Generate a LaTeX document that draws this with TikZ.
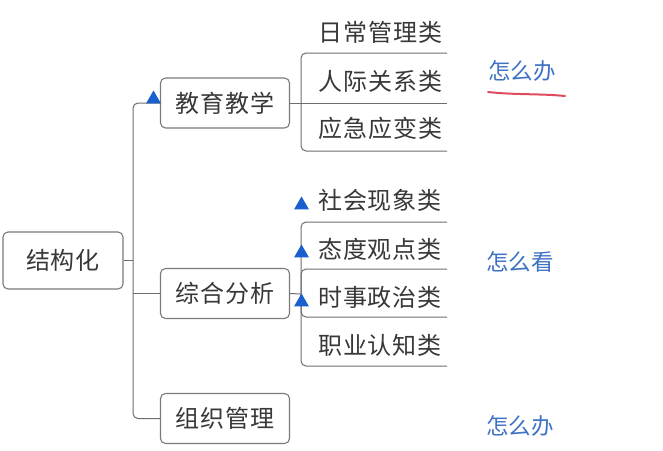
\documentclass[tikz,border=0pt]{standalone}
\usepackage{fontspec}
\newfontfamily\cjk[LetterSpace=4]{Noto Sans CJK SC}
\newfontfamily\cjknote{Noto Sans CJK SC}
\usetikzlibrary{shapes.geometric}
\definecolor{boxline}{HTML}{7A7A7A}
\definecolor{wire}{HTML}{6E6E6E}
\definecolor{ink}{HTML}{383838}
\definecolor{note}{HTML}{3D72C4}
\definecolor{mark}{HTML}{1A5FD0}
\definecolor{pen}{HTML}{E04A5F}
\tikzset{
  topic/.style={draw=boxline, line width=1.1pt, rounded corners=5pt, fill=white,
    minimum width=129pt, minimum height=50pt, inner sep=0pt,
    font=\cjk\fontsize{24}{24}\selectfont, text=ink},
  rootbox/.style={topic, minimum width=120pt, minimum height=57pt},
  leaf/.style={inner sep=0pt, font=\cjk\fontsize{24}{24}\selectfont, text=ink},
  wirestyle/.style={draw=wire, line width=1pt},
  bracket/.style={draw=wire, line width=1pt, rounded corners=5pt},
  flag/.style={regular polygon, regular polygon sides=3, fill=mark, draw=none,
    minimum size=17pt, inner sep=0pt},
  remark/.style={inner sep=0pt, font=\cjknote\fontsize{22.5}{22.5}\selectfont, text=note}
}
\begin{document}
\begin{tikzpicture}[x=1pt,y=-1pt]
\useasboundingbox (0,0) rectangle (663,450);
\fill[white] (0,0) rectangle (663,450);

% main topics
\node[rootbox] (root) at (63,260.5) {结构化};
\node[topic] (jy) at (225,103) {教育教学};
\node[topic] (zh) at (225,293.5) {综合分析};
\node[topic] (zz) at (225,418.5) {组织管理};

% trunk
\coordinate (trunkR) at (133,260.5);
\coordinate (trunkZ) at (133,293.5);
\draw[wirestyle] (root.east) -- (trunkR);
\draw[wirestyle, rounded corners=5pt] (jy.west) -| (trunkZ) |- (zz.west);
\draw[wirestyle] (trunkZ) -- (zh.west);

% first group of subtopics
\coordinate (g1t) at (447,53);
\coordinate (g1tl) at (301,53);
\coordinate (g1bl) at (301,151);
\coordinate (g1b) at (447,151);
\coordinate (g1m) at (447,103);
\draw[bracket] (g1t) -- (g1tl) -- (g1bl) -- (g1b);
\draw[wirestyle] (jy.east) -- (g1m);
\node[leaf] (a1) at (380.5,32) {日常管理类};
\node[leaf] (a2) at (380.5,81) {人际关系类};
\node[leaf] (a3) at (380.5,128) {应急应变类};

% second group of subtopics
\coordinate (g2t) at (447,222);
\coordinate (g2tl) at (301,222);
\coordinate (g2bl) at (301,366);
\coordinate (g2b) at (447,366);
\coordinate (g2it) at (447,269);
\coordinate (g2itl) at (301,269);
\coordinate (g2ibl) at (301,317);
\coordinate (g2ib) at (447,317);
\coordinate (g2in) at (301,294);
\draw[bracket] (g2t) -- (g2tl) -- (g2bl) -- (g2b);
\draw[bracket] (g2it) -- (g2itl) -- (g2ibl) -- (g2ib);
\draw[wirestyle] (zh.east) -- (g2in);
\node[leaf] (b1) at (380,200) {社会现象类};
\node[leaf] (b2) at (380,249) {态度观点类};
\node[leaf] (b3) at (380,297) {时事政治类};
\node[leaf] (b4) at (380,345) {职业认知类};

% markers
\node[flag] (f0) at (153.5,99) {};
\node[flag] (f1) at (301.5,205) {};
\node[flag] (f2) at (301.5,253) {};
\node[flag] (f3) at (301.5,302) {};

% side notes
\node[remark] (n1) at (522,71) {怎么办};
\node[remark] (n2) at (520,262) {怎么看};
\node[remark] (n3) at (520,426) {怎么办};
\draw[pen, line width=2pt, line cap=round]
  (488,92) .. controls (515,95) and (540,93.5) .. (565,96);
\end{tikzpicture}
\end{document}
